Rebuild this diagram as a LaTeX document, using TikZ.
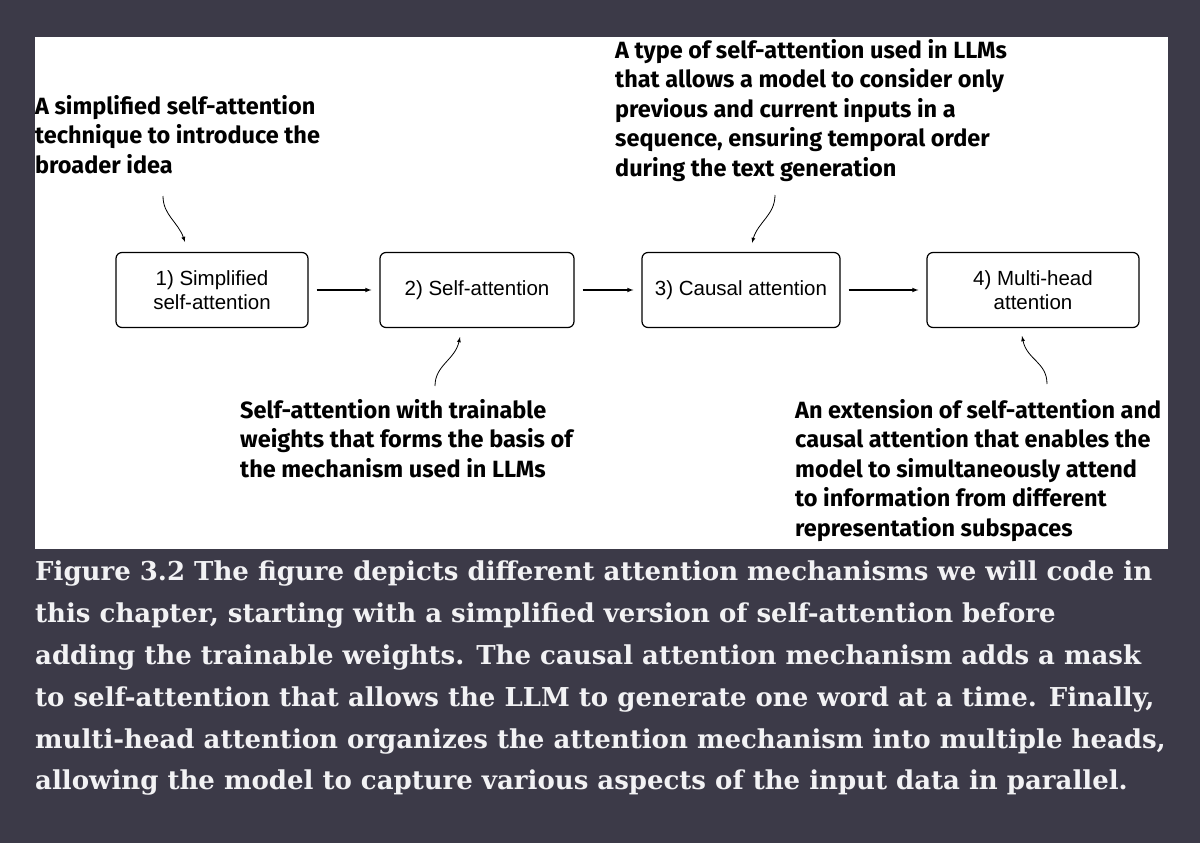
\documentclass[tikz,border=0pt]{standalone}
\usepackage{fontspec}
\setmainfont{DejaVu Serif}
\setsansfont{Liberation Sans}
\newfontfamily\notefont{Fira Sans}
\usetikzlibrary{positioning}
\definecolor{pagebg}{HTML}{3C3A48}
\definecolor{captxt}{HTML}{F2F2F4}
\tikzset{
  stage/.style={draw,rounded corners=6pt,line width=1.2pt,minimum height=75pt,align=center,font=\sffamily\fontsize{20.5}{24}\selectfont},
  note/.style={anchor=north west,align=left,inner sep=0pt,font=\notefont\bfseries\fontsize{23.5}{29.5}\selectfont},
  flow/.style={-latex,line width=1.1pt,shorten <=8pt,shorten >=8pt},
  hint/.style={-latex,line width=0.8pt},
}
\begin{document}
\begin{tikzpicture}[x=1pt,y=-1pt]
\fill[pagebg] (0,0) rectangle (1200,843);
\useasboundingbox (0,0) rectangle (1200,843);
\fill[white] (35,37) rectangle (1168,549);
% stages
\node[stage,minimum width=192pt] (s1) at (212,290) {1) Simplified\\self-attention};
\node[stage,minimum width=194pt] (s2) at (477,290) {2) Self-attention};
\node[stage,minimum width=198pt] (s3) at (741,290) {3) Causal attention};
\node[stage,minimum width=212pt] (s4) at (1033,290) {4) Multi-head\\attention};
\draw[flow] (s1) -- (s2);
\draw[flow] (s2) -- (s3);
\draw[flow] (s3) -- (s4);
% notes
\node[note] (n1) at (35,95) {A simplified self-attention\\technique to introduce the\\broader idea};
\node[note] (n3) at (615,39) {A type of self-attention used in LLMs\\that allows a model to consider only\\previous and current inputs in a\\sequence, ensuring temporal order\\during the text generation};
\node[note] (n2) at (240,399) {Self-attention with trainable\\weights that forms the basis of\\the mechanism used in LLMs};
\node[note] (n4) at (795,399) {An extension of self-attention and\\causal attention that enables the\\model to simultaneously attend\\to information from different\\representation subspaces};
\coordinate (h1) at (163,196);
\coordinate (h3) at (775,195);
\coordinate (h2) at (435,386);
\coordinate (h4) at (1047,384);
\draw[hint] (h1) .. controls (163,215) and (178,222) .. (185,242);
\draw[hint] (h3) .. controls (775,215) and (758,222) .. (752,243);
\draw[hint] (h2) .. controls (435,365) and (455,360) .. (460,337);
\draw[hint] (h4) .. controls (1047,362) and (1027,360) .. (1022,336);
% caption
\node[anchor=north west,align=left,inner sep=0pt,text=captxt,font=\bfseries\fontsize{26}{41.8}\selectfont] (cap) at (35,561)
{Figure 3.2 The figure depicts different attention mechanisms we will code in\\
this chapter, starting with a simplified version of self-attention before\\
adding the trainable weights. The causal attention mechanism adds a mask\\
to self-attention that allows the LLM to generate one word at a time. Finally,\\
multi-head attention organizes the attention mechanism into multiple heads,\\
allowing the model to capture various aspects of the input data in parallel.};
\end{tikzpicture}
\end{document}
